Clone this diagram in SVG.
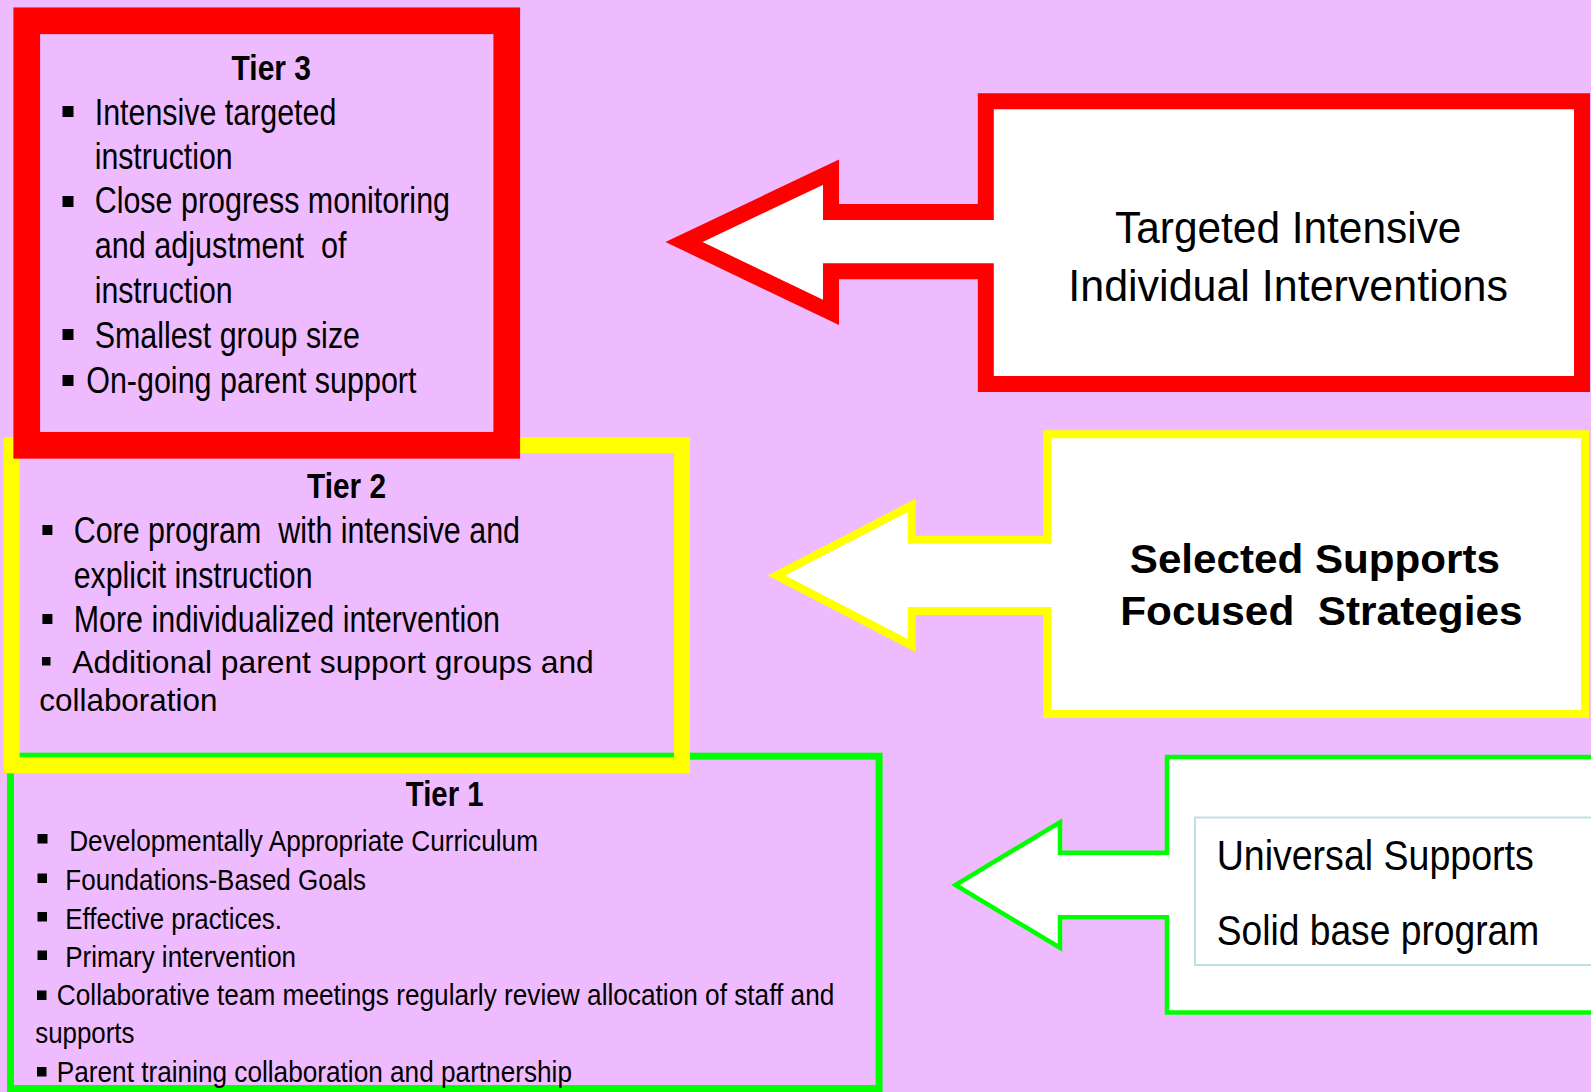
<svg xmlns="http://www.w3.org/2000/svg" width="1591" height="1092" viewBox="0 0 1591 1092">
<style>
text{font-family:"Liberation Sans",Arial,sans-serif;fill:#000;white-space:pre}
.t{font-size:35px;font-weight:bold}
.b36{font-size:36px}
.b28{font-size:30px}
.b30{font-size:32px}
.big{font-size:45px}
.bold41{font-size:41px;font-weight:bold}
.u{font-size:42px}
.blt{fill:#000}
</style>
<rect x="0" y="0" width="1591" height="1092" fill="#EEBBFE"/>

<g id="tier1">
<rect x="10.5" y="756.2" width="868.6" height="332.3" fill="none" stroke="#00FF00" stroke-width="7"/>
<text class="t" x="405.8" y="805.7" textLength="77.7" lengthAdjust="spacingAndGlyphs">Tier 1</text>
<rect class="blt" x="37.5" y="834" width="10" height="9.5"/>
<text class="b28" x="69.2" y="850.5" textLength="468.8" lengthAdjust="spacingAndGlyphs">Developmentally Appropriate Curriculum</text>
<rect class="blt" x="37.5" y="873.5" width="9.5" height="9.5"/>
<text class="b28" x="65.3" y="889.5" textLength="300.7" lengthAdjust="spacingAndGlyphs">Foundations-Based Goals</text>
<rect class="blt" x="37.5" y="912" width="9.5" height="9.5"/>
<text class="b28" x="65.3" y="928.5" textLength="216.7" lengthAdjust="spacingAndGlyphs">Effective practices.</text>
<rect class="blt" x="37.5" y="950.5" width="9.5" height="9.5"/>
<text class="b28" x="65.3" y="967" textLength="230.7" lengthAdjust="spacingAndGlyphs">Primary intervention</text>
<rect class="blt" x="37" y="990.5" width="9.5" height="9.5"/>
<text class="b28" x="56.8" y="1004.5" textLength="777.5" lengthAdjust="spacingAndGlyphs">Collaborative team meetings regularly review allocation of staff and</text>
<text class="b28" x="35.2" y="1042.7" textLength="99.3" lengthAdjust="spacingAndGlyphs">supports</text>
<rect class="blt" x="37" y="1067" width="9.5" height="9.5"/>
<text class="b28" x="56.8" y="1081.7" textLength="515.2" lengthAdjust="spacingAndGlyphs">Parent training collaboration and partnership</text>
</g>

<g id="tier2">
<rect x="11.6" y="445.3" width="670.4" height="320" fill="none" stroke="#FFFF00" stroke-width="16"/>
<text class="t" x="307" y="498.3" textLength="79" lengthAdjust="spacingAndGlyphs">Tier 2</text>
<rect class="blt" x="42.4" y="525" width="10" height="10"/>
<text class="b36" x="73.7" y="543.3" textLength="446.3" lengthAdjust="spacingAndGlyphs">Core program  with intensive and</text>
<text class="b36" x="73.7" y="588.3" textLength="238.8" lengthAdjust="spacingAndGlyphs">explicit instruction</text>
<rect class="blt" x="42.4" y="614" width="10" height="10"/>
<text class="b36" x="73.7" y="632.3" textLength="426.3" lengthAdjust="spacingAndGlyphs">More individualized intervention</text>
<rect class="blt" x="42" y="657" width="8.5" height="8.5"/>
<text class="b30" x="72.3" y="673.2" textLength="521.5" lengthAdjust="spacingAndGlyphs">Additional parent support groups and</text>
<text class="b30" x="39.3" y="710.8" textLength="178.1" lengthAdjust="spacingAndGlyphs">collaboration</text>
</g>

<g id="tier3">
<rect x="26.75" y="20.8" width="480" height="424.5" fill="none" stroke="#FF0000" stroke-width="26.7"/>
<text class="t" x="231.6" y="80" textLength="79.4" lengthAdjust="spacingAndGlyphs">Tier 3</text>
<rect class="blt" x="62.5" y="106" width="11" height="11"/>
<text class="b36" x="94.7" y="125" textLength="241.7" lengthAdjust="spacingAndGlyphs">Intensive targeted</text>
<text class="b36" x="94.7" y="169.3" textLength="137.9" lengthAdjust="spacingAndGlyphs">instruction</text>
<rect class="blt" x="62.5" y="196" width="11" height="11"/>
<text class="b36" x="94.7" y="212.7" textLength="355.3" lengthAdjust="spacingAndGlyphs">Close progress monitoring</text>
<text class="b36" x="94.7" y="258.3" textLength="251.8" lengthAdjust="spacingAndGlyphs">and adjustment  of</text>
<text class="b36" x="94.7" y="303.3" textLength="137.9" lengthAdjust="spacingAndGlyphs">instruction</text>
<rect class="blt" x="62.5" y="329" width="11" height="11"/>
<text class="b36" x="94.7" y="347.7" textLength="265.3" lengthAdjust="spacingAndGlyphs">Smallest group size</text>
<rect class="blt" x="62.5" y="375" width="11" height="11"/>
<text class="b36" x="86.2" y="392.7" textLength="330.3" lengthAdjust="spacingAndGlyphs">On-going parent support</text>
</g>

<g id="callout-targeted">
<path d="M 985.8 101.3 H 1582 V 384 H 985.8 V 271.3 H 831 V 312.4 L 684 242 L 831 172.2 V 212 H 985.8 Z" fill="#FFFFFF" stroke="#FF0000" stroke-width="16"/>
<text class="big" x="1115" y="243.3" textLength="346.4" lengthAdjust="spacingAndGlyphs">Targeted Intensive</text>
<text class="big" x="1068.3" y="300.7" textLength="439.7" lengthAdjust="spacingAndGlyphs">Individual Interventions</text>
</g>

<g id="callout-selected">
<path d="M 1047.4 434.2 H 1585 V 714 H 1047.4 V 611 H 911.7 V 645.6 L 776.3 575.4 L 911.7 505.4 V 539.7 H 1047.4 Z" fill="#FFFFFF" stroke="#FFFF00" stroke-width="8"/>
<text class="bold41" x="1129.8" y="573.3" textLength="370.2" lengthAdjust="spacingAndGlyphs">Selected Supports</text>
<text class="bold41" x="1120.2" y="625" textLength="402.3" lengthAdjust="spacingAndGlyphs">Focused  Strategies</text>
</g>

<g id="callout-universal">
<path d="M 1167 757 H 1600 V 1012.5 H 1167 V 917.3 H 1060 V 947.8 L 955.4 885 L 1060 822.2 V 852.7 H 1167 Z" fill="#FFFFFF" stroke="#00FF00" stroke-width="4.5"/>
<rect x="1195" y="817.5" width="410" height="147.5" fill="#FFFFFF" stroke="#BFDFE6" stroke-width="2"/>
<text class="u" x="1216.7" y="870" textLength="317" lengthAdjust="spacingAndGlyphs">Universal Supports</text>
<text class="u" x="1216.7" y="945" textLength="322.5" lengthAdjust="spacingAndGlyphs">Solid base program</text>
</g>

<g id="connectors"></g>
</svg>
